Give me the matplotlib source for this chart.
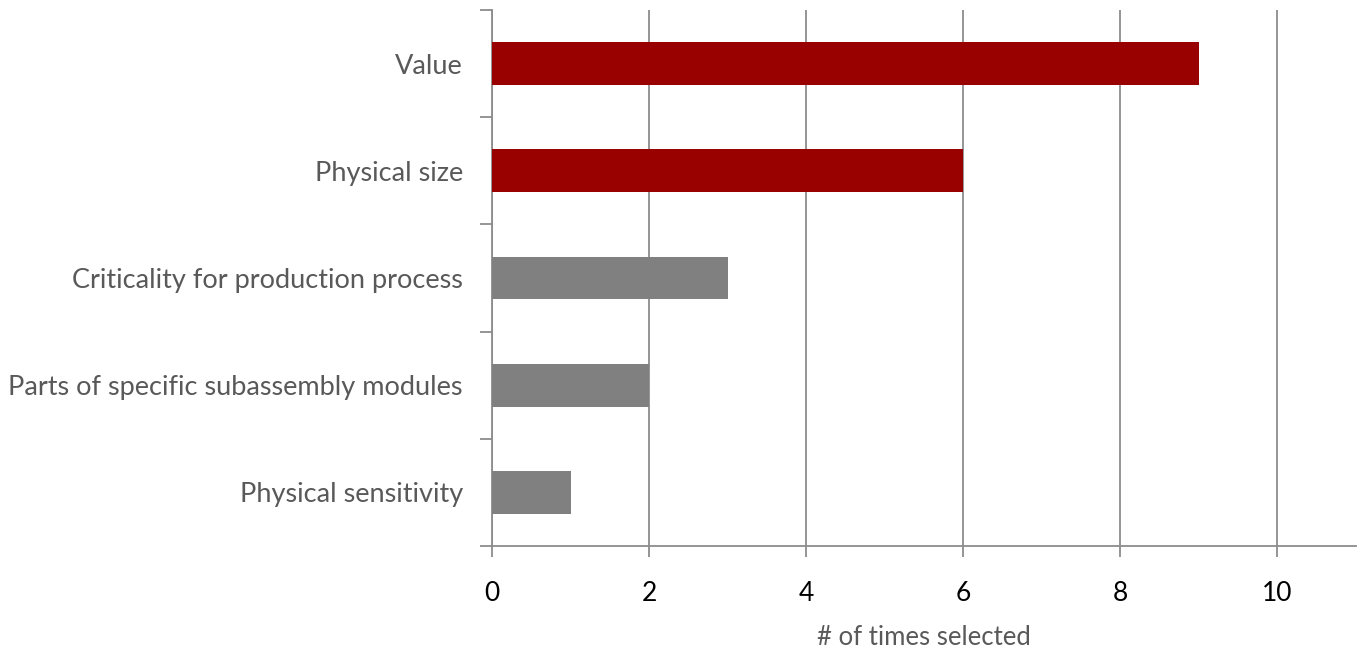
import matplotlib
matplotlib.use("Agg")
import matplotlib.pyplot as plt
from matplotlib.ticker import FixedLocator

categories = [
    "Value",
    "Physical size",
    "Criticality for production process",
    "Parts of specific subassembly modules",
    "Physical sensitivity",
]
counts = [9, 6, 3, 2, 1]
highlight = [True, True, False, False, False]
x_ticks = [0, 2, 4, 6, 8, 10]
x_label = "# of times selected"

RED = "#990000"
GREY = "#808080"
AXIS_GREY = "#8c8c8c"
LABEL_GREY = "#595959"

plt.rcParams["font.family"] = ["Lato", "DejaVu Sans"]

fig = plt.figure(figsize=(13.64, 6.58), dpi=100)
ax = fig.add_axes([492 / 1364, 1 - 546 / 658, (1356 - 492) / 1364, (546 - 10) / 658])

n = len(categories)
ypos = list(range(n))
colors = [RED if h else GREY for h in highlight]
ax.barh(ypos, counts, height=0.4, color=colors, zorder=3)

ax.set_xlim(0, 11)
ax.set_ylim(n - 0.5, -0.5)

# vertical gridlines
ax.set_xticks(x_ticks)
ax.xaxis.grid(True, color=AXIS_GREY, linewidth=1.3, zorder=0)
ax.yaxis.grid(False)

# category labels centred, tick marks on category boundaries
ax.set_yticks(ypos)
ax.set_yticklabels(categories, fontsize=19.5, color=LABEL_GREY)
ax.yaxis.set_minor_locator(FixedLocator([i - 0.5 for i in range(n + 1)]))
ax.tick_params(axis="y", which="major", length=0, pad=21)
ax.tick_params(axis="y", which="minor", length=9, width=1.3, color=AXIS_GREY, direction="out")

ax.tick_params(axis="x", which="major", length=8, width=1.3, color=AXIS_GREY,
               direction="out", labelsize=19, labelcolor="black", pad=17)

for side in ("top", "right"):
    ax.spines[side].set_visible(False)
for side in ("left", "bottom"):
    ax.spines[side].set_color(AXIS_GREY)
    ax.spines[side].set_linewidth(1.3)

ax.set_xlabel(x_label, fontsize=18.5, color=LABEL_GREY, labelpad=14)

fig.savefig("out.png", dpi=100)
